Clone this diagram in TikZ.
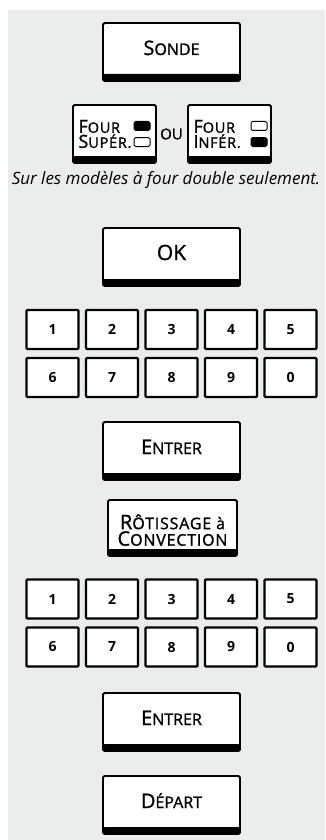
\documentclass[tikz,border=0pt]{standalone}
\usepackage{fontspec}
\setmainfont{Open Sans}
\newfontfamily\keyfont{Open Sans}[FakeBold=1.2]
\newfontfamily\keyfontw{Open Sans}[FakeBold=1.2, LetterSpace=5]
\usetikzlibrary{positioning}
\definecolor{panel}{RGB}{235,236,236}
% small caps look of the key labels
\newcommand\kcap[2]{{\fontsize{20}{20}\selectfont #1}{\fontsize{16}{16}\selectfont #2}}
\newcommand\kcapS[2]{{\fontsize{18}{15}\selectfont #1}{\fontsize{14.5}{15}\selectfont #2}}

\begin{document}
\begin{tikzpicture}[
  x=1pt, y=-1pt,
  btn/.style={draw, line width=1.8pt, fill=white, rounded corners=1.5pt,
              minimum width=137pt, minimum height=58pt, inner sep=0pt,
              align=center, font=\keyfont,
              path picture={\fill[black] (path picture bounding box.south west)
                rectangle ([yshift=7pt]path picture bounding box.south east);}},
  btnl/.style={btn, text height=14pt, text depth=8pt},
  key/.style={draw, line width=2.4pt, fill=white, rounded corners=1pt,
              minimum width=52pt, minimum height=39pt, inner sep=0pt,
              font=\bfseries\fontsize{14}{14}\selectfont},
  lamp/.style={draw, line width=1pt, rounded corners=1.5pt,
               minimum width=16pt, minimum height=9pt, inner sep=0pt},
  four/.style={btn, minimum width=83pt, text width=72pt, align=left,
               font=\keyfontw\fontsize{14.5}{15}\selectfont}
]
\useasboundingbox (0,0) rectangle (325,840);
\fill[panel] (8,10) rectangle (325,840);

\node[btnl] (sonde) at (171.5,52) {\kcap{S}{ONDE}};

% upper / lower oven
\node[four] (sup) at (114.5,134) {\kcapS{F}{OUR}\\\kcapS{S}{UPÉR.}};
\node[lamp, fill=black] (supA) at (142,126) {};
\node[lamp] (supB) at (142,142) {};
\node[font=\keyfont\fontsize{15}{15}\selectfont] (ou) at (171.5,134) {OU};
\node[four] (inf) at (229.5,134) {\kcapS{F}{OUR}\\\kcapS{I}{NFÉR.}};
\node[lamp] (infA) at (259,126) {};
\node[lamp, fill=black] (infB) at (259,142) {};

\node[font=\itshape\fontsize{17}{17}\selectfont] (note) at (166,180)
  {Sur les modèles à four double seulement.};

\node[btnl, font=\keyfont\fontsize{21}{21}\selectfont] (ok) at (171.5,257) {OK};

% keypads
\foreach \d [count=\i from 0] in {1,2,3,4,5,6,7,8,9,0}{
  \pgfmathtruncatemacro\c{mod(\i,5)}
  \pgfmathtruncatemacro\r{\i/5}
  \node[key] (ka\d) at (52.5+59.5*\c, 329.5+48*\r) {\d};
  \node[key] (kb\d) at (52.5+59.5*\c, 599+48*\r) {\d};
}

\node[btnl] (entrerA) at (171.5,451) {\kcap{E}{NTRER}};
\node[btn, minimum width=129pt, minimum height=56pt,
      font=\keyfontw\fontsize{16}{16.5}\selectfont] (rotis) at (172.5,528)
  {\rule{0pt}{19pt}{\fontsize{20}{16.5}\selectfont R}ÔTISSAGE à\\{\fontsize{20}{16.5}\selectfont C}ONVECTION};
\node[btnl] (entrerB) at (171.5,722) {\kcap{E}{NTRER}};
\node[btnl] (depart) at (171.5,805) {\kcap{D}{ÉPART}};
\end{tikzpicture}
\end{document}
